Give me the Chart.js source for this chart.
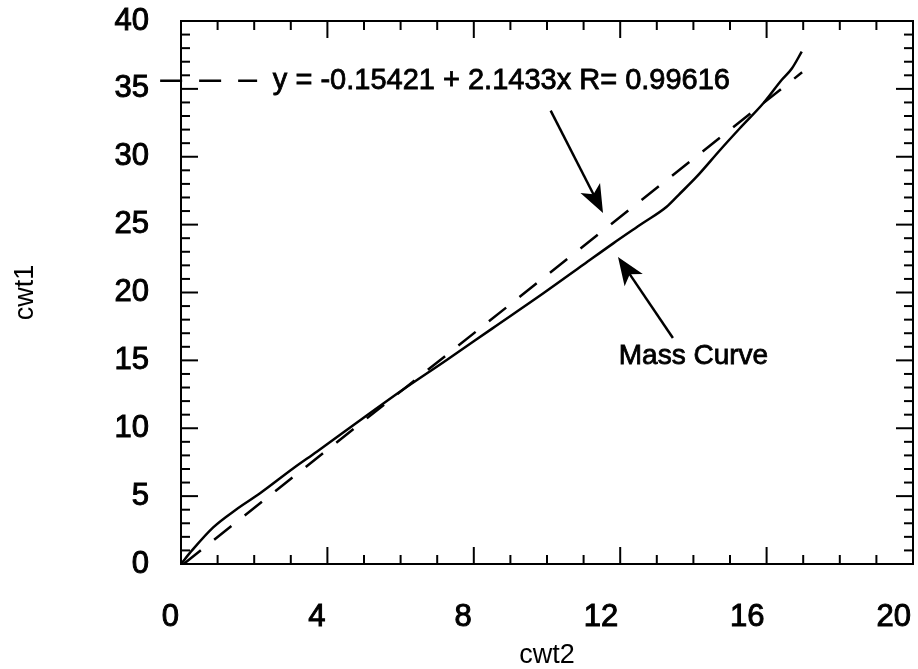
<!DOCTYPE html>
<html>
<head>
<meta charset="utf-8">
<title>cwt1 vs cwt2</title>
<script src="https://cdn.jsdelivr.net/npm/chart.js@4"></script>
<style>
  html, body { margin: 0; padding: 0; background: #fff; }
  canvas { display: block; }
</style>
</head>
<body>
<canvas id="chart" width="918" height="669"></canvas>
<script>
// Mass curve (cwt2 on x, cwt1 on y)
const massX = [0, 0.3, 0.88, 1.5, 2.16, 3.07, 3.71, 4.8, 5.98, 7.26, 8.5, 9.9, 11.0, 11.81, 12.6, 13.27, 13.6, 14.09, 14.73, 15.27, 15.91, 16.41, 16.69, 16.96];
const massY = [0, 1.0, 2.7, 4.0, 5.21, 7.05, 8.27, 10.4, 12.69, 15.03, 17.34, 19.94, 22.06, 23.62, 25.08, 26.32, 27.2, 28.53, 30.5, 32.1, 33.94, 35.65, 36.5, 37.74];

// Least squares fit
const fitIntercept = -0.15421;
const fitSlope = 2.1433;
const fitR = 0.99616;
const fitRangeX = [0.072, 16.97];

// Axis ranges and tick steps
const xRange = [0, 20];
const yRange = [0, 40];
const xLabelStep = 4;
const yLabelStep = 5;
const minorStep = 1;

const fitLabel = 'y = ' + fitIntercept + ' + ' + fitSlope + 'x R= ' + fitR;
const massLabel = 'Mass Curve';

const FONT = '"Liberation Sans", Helvetica, Arial, sans-serif';

const massPoints = massX.map((x, i) => ({ x: x, y: massY[i] }));
const fitPoints = fitRangeX.map(x => ({ x: x, y: fitIntercept + fitSlope * x }));

function drawArrow(ctx, x0, y0, x1, y1) {
  const ang = Math.atan2(y1 - y0, x1 - x0);
  const headLen = 28, headHalf = 11;
  ctx.beginPath();
  ctx.moveTo(x0, y0);
  ctx.lineTo(x1 - Math.cos(ang) * headLen * 0.7, y1 - Math.sin(ang) * headLen * 0.7);
  ctx.stroke();
  // filled head with a small notch at the back
  const bx = x1 - Math.cos(ang) * headLen, by = y1 - Math.sin(ang) * headLen;
  const nx = -Math.sin(ang), ny = Math.cos(ang);
  ctx.beginPath();
  ctx.moveTo(x1, y1);
  ctx.lineTo(bx + nx * headHalf, by + ny * headHalf);
  ctx.lineTo(x1 - Math.cos(ang) * headLen * 0.75, y1 - Math.sin(ang) * headLen * 0.75);
  ctx.lineTo(bx - nx * headHalf, by - ny * headHalf);
  ctx.closePath();
  ctx.fill();
}

function heavyText(ctx, text, x, y) {
  ctx.fillText(text, x, y);
  ctx.strokeText(text, x, y);
}

// box frame with inward ticks on all four sides, legend line and arrows
const framePlugin = {
  id: 'framePlugin',
  afterDatasetsDraw(chart) {
    const { ctx, chartArea: a, scales: { x, y } } = chart;
    ctx.save();
    ctx.strokeStyle = '#000';
    ctx.fillStyle = '#000';
    ctx.lineWidth = 2;
    ctx.lineCap = 'butt';
    ctx.strokeRect(a.left, a.top, a.right - a.left, a.bottom - a.top);

    const seg = (x0, y0, x1, y1) => {
      ctx.beginPath();
      ctx.moveTo(x0, y0);
      ctx.lineTo(x1, y1);
      ctx.stroke();
    };
    x.ticks.forEach(t => {
      const px = x.getPixelForValue(t.value);
      const len = t.value % xLabelStep === 0 ? 17 : 9;
      seg(px, a.bottom, px, a.bottom - len);
      seg(px, a.top, px, a.top + len);
    });
    y.ticks.forEach(t => {
      const py = y.getPixelForValue(t.value);
      const len = t.value % yLabelStep === 0 ? 17 : 9;
      seg(a.left, py, a.left + len, py);
      seg(a.right, py, a.right - len, py);
    });

    // legend entry for the fitted line
    const fit = chart.data.datasets[1];
    const ly = y.getPixelForValue(35.6);
    ctx.lineWidth = fit.borderWidth;
    ctx.setLineDash(fit.borderDash);
    seg(x.getPixelForValue(-0.57), ly, x.getPixelForValue(2.08), ly);
    ctx.setLineDash([]);
    ctx.font = '29px ' + FONT;
    ctx.textBaseline = 'middle';
    ctx.textAlign = 'left';
    ctx.lineWidth = 0.8;
    heavyText(ctx, fit.label, x.getPixelForValue(2.51), ly);

    // arrows
    ctx.lineWidth = 2.5;
    drawArrow(ctx, x.getPixelForValue(10.1), y.getPixelForValue(33.4),
      x.getPixelForValue(11.53), y.getPixelForValue(25.86));
    drawArrow(ctx, x.getPixelForValue(13.44), y.getPixelForValue(16.65),
      x.getPixelForValue(11.94), y.getPixelForValue(22.62));

    ctx.font = '28px ' + FONT;
    ctx.lineWidth = 0.8;
    heavyText(ctx, chart.data.datasets[0].label, x.getPixelForValue(11.96), y.getPixelForValue(15.27));
    ctx.restore();
  }
};

new Chart(document.getElementById('chart'), {
  type: 'line',
  data: {
    datasets: [
      {
        label: massLabel,
        data: massPoints,
        borderColor: '#000',
        borderWidth: 2.5,
        pointRadius: 0,
        tension: 0.3,
        cubicInterpolationMode: 'monotone',
        fill: false
      },
      {
        label: fitLabel,
        data: fitPoints,
        borderColor: '#000',
        borderWidth: 2.5,
        borderDash: [22, 17],
        pointRadius: 0,
        fill: false
      }
    ]
  },
  options: {
    responsive: false,
    animation: false,
    devicePixelRatio: 1,
    layout: { padding: { top: 21, right: 5, left: 0, bottom: 0 } },
    plugins: {
      legend: { display: false },
      tooltip: { enabled: false }
    },
    scales: {
      x: {
        type: 'linear',
        min: xRange[0],
        max: xRange[1],
        grid: { display: false, drawTicks: false },
        border: { display: false },
        ticks: {
          stepSize: minorStep,
          autoSkip: false,
          maxRotation: 0,
          align: 'end',
          labelOffset: -2,
          padding: 35,
          color: '#000',
          textStrokeColor: '#000',
          textStrokeWidth: 1,
          font: { family: FONT, size: 31 },
          callback: v => (v % xLabelStep === 0 ? v : '')
        },
        title: {
          display: true,
          text: 'cwt2',
          color: '#000',
          font: { family: FONT, size: 27, lineHeight: 1 },
          padding: { top: 0, bottom: 0 }
        },
        afterFit: s => { s.height = 105; s.paddingLeft = 0; s.paddingRight = 0; }
      },
      y: {
        type: 'linear',
        min: yRange[0],
        max: yRange[1],
        grid: { display: false, drawTicks: false },
        border: { display: false },
        ticks: {
          stepSize: minorStep,
          autoSkip: false,
          padding: 32,
          color: '#000',
          textStrokeColor: '#000',
          textStrokeWidth: 1,
          font: { family: FONT, size: 31 },
          callback: v => (v % yLabelStep === 0 ? v : '')
        },
        title: {
          display: true,
          text: 'cwt1',
          color: '#000',
          font: { family: FONT, size: 27, lineHeight: 1 },
          padding: { top: 12, bottom: 0 }
        },
        afterFit: s => { s.width = 181; s.paddingTop = 0; s.paddingBottom = 0; }
      }
    }
  },
  plugins: [framePlugin]
});
</script>
</body>
</html>
